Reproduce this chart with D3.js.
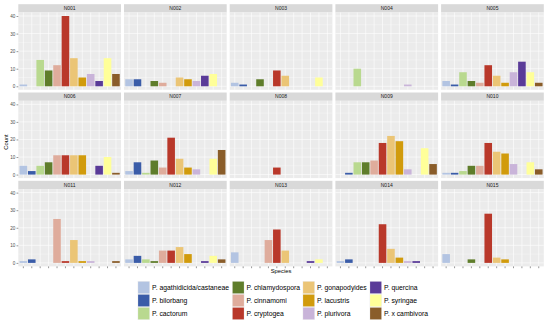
<!DOCTYPE html>
<html>
<head>
<meta charset="utf-8">
<script src="https://cdn.jsdelivr.net/npm/d3@7"></script>
<style>
  html, body { margin: 0; padding: 0; background: #ffffff; }
  svg { display: block; font-family: "Liberation Sans", Arial, sans-serif; }
</style>
</head>
<body>
<svg id="chart" width="550" height="329"></svg>
<script>
// ---- data ----
const species = [
  "P. agathidicida/castaneae", "P. bilorbang", "P. cactorum", "P. chlamydospora",
  "P. cinnamomi", "P. cryptogea", "P. gonapodyides", "P. lacustris",
  "P. plurivora", "P. quercina", "P. syringae", "P. x cambivora"
];
const sites = ["N001","N002","N003","N004","N005","N006","N007","N008","N009","N010","N011","N012","N013","N014","N015"];
const N001 = [1, 0, 15, 9, 12, 40, 16, 5, 7, 3, 16, 7];
const N002 = [4, 4, 0, 3, 2, 0, 5, 4, 3, 6, 7, 0];
const N003 = [2, 1, 0, 4, 0, 9, 6, 0, 0, 0, 5, 0];
const N004 = [0, 0, 10, 0, 0, 0, 0, 0, 1, 0, 0, 0];
const N005 = [3, 1, 8, 3, 2, 12, 6, 2, 8, 14, 8, 2];
const N006 = [5, 2, 5, 7, 11, 11, 11, 11, 0, 5, 10, 1];
const N007 = [2, 7, 1, 8, 4, 21, 9, 4, 3, 0, 9, 14];
const N008 = [0, 0, 0, 0, 0, 4, 0, 0, 0, 0, 0, 0];
const N009 = [0, 1, 7, 7, 8, 18, 22, 19, 3, 0, 15, 6];
const N010 = [1, 1, 2, 5, 5, 18, 13, 12, 6, 0, 7, 3];
const N011 = [1, 2, 0, 0, 25, 1, 13, 1, 1, 0, 0, 1];
const N012 = [2, 4, 2, 1, 7, 7, 9, 5, 0, 1, 4, 2];
const N013 = [6, 0, 0, 0, 13, 19, 7, 0, 0, 1, 2, 0];
const N014 = [1, 2, 0, 0, 0, 22, 8, 3, 1, 1, 0, 0];
const N015 = [5, 0, 0, 2, 0, 28, 3, 2, 0, 0, 0, 0];
const counts = [N001,N002,N003,N004,N005,N006,N007,N008,N009,N010,N011,N012,N013,N014,N015];
const yTicks = [0, 10, 20, 30, 40];
const yMinor = [5, 15, 25, 35];
const colors = ["#b3c4e2", "#3a5ca8", "#b9d98f", "#5f7d2b", "#dfac9c", "#b9382a",
                "#ebc576", "#d19b0c", "#c9b4d9", "#5a3b98", "#ffff99", "#8a5d2a"];

// ---- layout ----
const svg = d3.select("#chart");
const nCol = 5;
const left = 18.3, panelW = 102.7, gapX = 3;
const top0 = 12.5, panelH = 77.3, rowStep = 88.3, stripH = 8.3;

const maxV = d3.max(counts.flat());
const x = d3.scaleBand().domain(species).range([0, panelW]).paddingInner(0.1).paddingOuter(0.15);
const y = d3.scaleLinear().domain([-0.05 * maxV, 1.05 * maxV]).range([panelH, 0]);
const color = d3.scaleOrdinal().domain(species).range(colors);

sites.forEach((site, k) => {
  const col = k % nCol, row = Math.floor(k / nCol);
  const px = left + col * (panelW + gapX);
  const py = top0 + row * rowStep;
  const g = svg.append("g").attr("transform", `translate(${px},${py})`);

  // strip
  g.append("rect").attr("x", 0).attr("y", -stripH).attr("width", panelW).attr("height", stripH).attr("fill", "#d9d9d9");
  g.append("text").attr("x", panelW / 2).attr("y", -stripH / 2).attr("dy", "0.35em")
    .attr("text-anchor", "middle").attr("font-size", 5).attr("fill", "#1a1a1a").text(site);

  // panel background
  g.append("rect").attr("width", panelW).attr("height", panelH).attr("fill", "#ebebeb");
  // grid
  g.selectAll(".gmin").data(yMinor).join("line")
    .attr("x1", 0).attr("x2", panelW).attr("y1", d => y(d)).attr("y2", d => y(d))
    .attr("stroke", "#ffffff").attr("stroke-width", 0.3);
  g.selectAll(".gmaj").data(yTicks).join("line")
    .attr("x1", 0).attr("x2", panelW).attr("y1", d => y(d)).attr("y2", d => y(d))
    .attr("stroke", "#ffffff").attr("stroke-width", 0.6);
  g.selectAll(".gv").data(species).join("line")
    .attr("x1", d => x(d) + x.bandwidth() / 2).attr("x2", d => x(d) + x.bandwidth() / 2)
    .attr("y1", 0).attr("y2", panelH)
    .attr("stroke", "#ffffff").attr("stroke-width", 0.6);

  // bars
  const vals = counts[k];
  g.selectAll(".bar").data(species.map((s, i) => ({ s, v: vals[i] })).filter(d => d.v > 0)).join("rect")
    .attr("x", d => x(d.s)).attr("width", x.bandwidth())
    .attr("y", d => y(d.v)).attr("height", d => y(0) - y(d.v))
    .attr("fill", d => color(d.s));

  // y axis on first column
  if (col === 0) {
    const ax = g.append("g").call(d3.axisLeft(y).tickValues(yTicks).tickSize(1.8).tickPadding(1.2));
    ax.select(".domain").remove();
    ax.selectAll(".tick line").attr("stroke", "#333333").attr("stroke-width", 0.5);
    ax.selectAll(".tick text").attr("font-size", 4.6).attr("fill", "#4d4d4d").attr("font-family", "Liberation Sans, Arial, sans-serif");
  }
  // x ticks on bottom row
  if (row === 2) {
    g.selectAll(".xt").data(species).join("line")
      .attr("x1", d => x(d) + x.bandwidth() / 2).attr("x2", d => x(d) + x.bandwidth() / 2)
      .attr("y1", panelH).attr("y2", panelH + 1.8)
      .attr("stroke", "#333333").attr("stroke-width", 0.5);
  }
});

// axis titles
const plotRight = left + nCol * panelW + (nCol - 1) * gapX;
svg.append("text").attr("x", (left + plotRight) / 2).attr("y", 273)
  .attr("text-anchor", "middle").attr("font-size", 5.8).attr("fill", "#000").text("Species");
svg.append("text").attr("transform", `translate(7.5,142) rotate(-90)`)
  .attr("text-anchor", "middle").attr("font-size", 5.8).attr("fill", "#000").text("Count");

// legend (3 rows, column-major)
const legCols = [137.5, 232, 302.5, 369.5];
const legTop = 281, keyH = 13, keyW = 12.5;
species.forEach((s, i) => {
  const c = Math.floor(i / 3), r = i % 3;
  const lx = legCols[c], ly = legTop + r * keyH;
  svg.append("rect").attr("x", lx).attr("y", ly).attr("width", keyW).attr("height", keyH)
    .attr("fill", "#f2f2f2");
  svg.append("rect").attr("x", lx + 0.6).attr("y", ly + 0.6).attr("width", keyW - 1.2).attr("height", keyH - 1.2)
    .attr("fill", color(s));
  svg.append("text").attr("x", lx + keyW + 2).attr("y", ly + keyH / 2).attr("dy", "0.35em")
    .attr("font-size", 6.8).attr("fill", "#000").text(s);
});
</script>
</body>
</html>
